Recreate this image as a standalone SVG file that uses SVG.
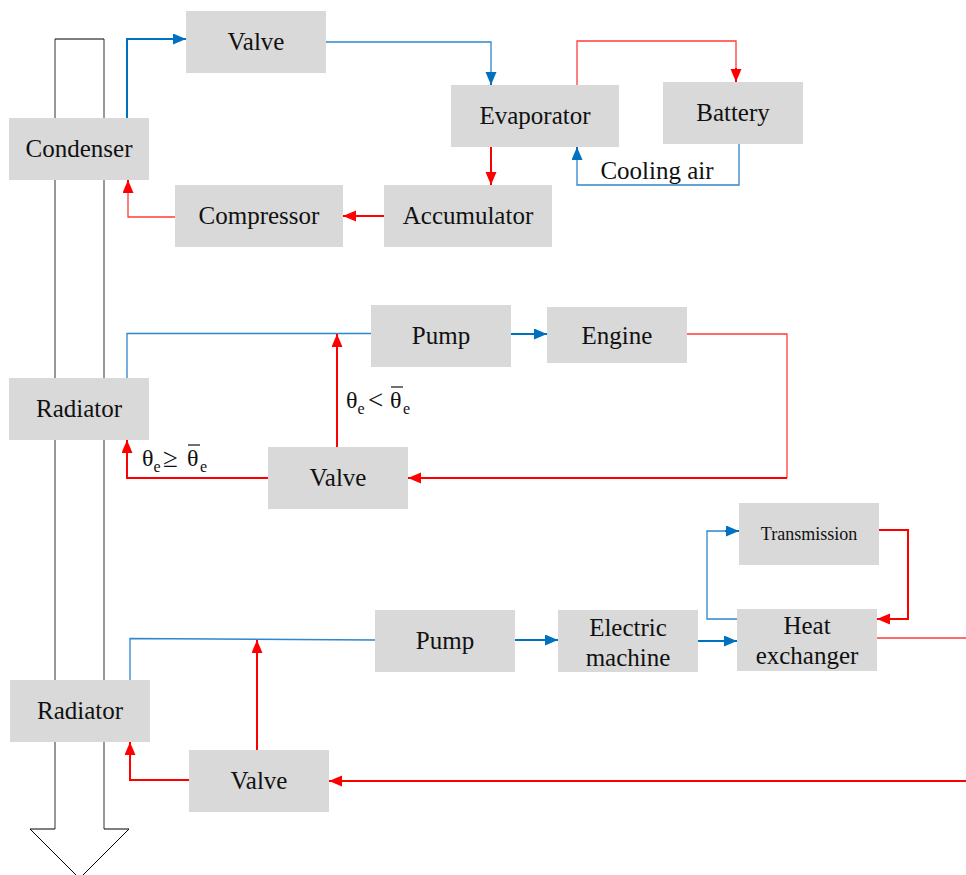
<svg xmlns="http://www.w3.org/2000/svg" width="966" height="875" viewBox="0 0 966 875">
  <style>
    .box { fill: #d9d9d9; }
    .lbl { font-family: "Liberation Serif", "Times New Roman", serif; font-size: 25px; fill: #111; text-anchor: middle; }
    .sym { font-family: "Liberation Serif", "Times New Roman", serif; font-size: 24px; fill: #111; }
    .op { font-family: "Liberation Serif", "Times New Roman", serif; font-size: 27px; fill: #111; }
    .sub { font-family: "Liberation Serif", "Times New Roman", serif; font-size: 16px; fill: #111; }
    .b { fill: none; stroke: #0070c0; stroke-width: 2; }
    .bt { fill: none; stroke: #2e86cc; stroke-width: 1.3; }
    .r { fill: none; stroke: #ff0000; stroke-width: 2; }
    .rt { fill: none; stroke: #ff3b3b; stroke-width: 1.3; }
    .shaft { stroke: #7f7f7f; stroke-width: 1.6; fill: none; }
    .edge { stroke: #000; stroke-width: 1; fill: none; }
  </style>
  <defs>
    <marker id="ab" markerUnits="userSpaceOnUse" markerWidth="14" markerHeight="12" refX="13" refY="5.5" orient="auto">
      <path d="M0,0 L13,5.5 L0,11 z" fill="#0070c0"/>
    </marker>
    <marker id="ar" markerUnits="userSpaceOnUse" markerWidth="14" markerHeight="12" refX="13" refY="5.5" orient="auto">
      <path d="M0,0 L13,5.5 L0,11 z" fill="#ff0000"/>
    </marker>
  </defs>

  <rect width="966" height="875" fill="#fff"/>

  <!-- heat flow to ambient: hollow downward arrow behind the heat exchangers -->
  <g id="ambient-flow">
    <path class="shaft" d="M55,39 V829 M104,39 V829"/>
    <path class="edge" d="M55,39 H104"/>
    <path class="edge" d="M55,829 H30 L79.5,878.5 L129,829 H104"/>
  </g>

  <!-- refrigerant loop -->
  <g id="condenser"><rect class="box" x="9" y="118" width="140" height="62"/><text class="lbl" x="79" y="157">Condenser</text></g>
  <g id="valve-refrigerant"><rect class="box" x="186" y="11" width="140" height="62"/><text class="lbl" x="256" y="50">Valve</text></g>
  <g id="compressor"><rect class="box" x="175" y="185" width="168" height="62"/><text class="lbl" x="259" y="224">Compressor</text></g>
  <g id="accumulator"><rect class="box" x="384" y="185" width="168" height="62"/><text class="lbl" x="468" y="224">Accumulator</text></g>
  <g id="evaporator"><rect class="box" x="451" y="85" width="168" height="62"/><text class="lbl" x="535" y="124">Evaporator</text></g>
  <g id="battery"><rect class="box" x="663" y="82" width="140" height="62"/><text class="lbl" x="733" y="121">Battery</text></g>

  <!-- engine coolant loop -->
  <g id="radiator-engine"><rect class="box" x="9" y="378" width="140" height="62"/><text class="lbl" x="79" y="417">Radiator</text></g>
  <g id="pump-engine"><rect class="box" x="371" y="305" width="140" height="62"/><text class="lbl" x="441" y="344">Pump</text></g>
  <g id="engine"><rect class="box" x="547" y="307" width="140" height="56"/><text class="lbl" x="617" y="344">Engine</text></g>
  <g id="valve-engine"><rect class="box" x="268" y="447" width="140" height="62"/><text class="lbl" x="338" y="486">Valve</text></g>

  <!-- electric drive coolant loop -->
  <g id="transmission"><rect class="box" x="739" y="503" width="140" height="62"/><text class="lbl" x="809" y="540" style="font-size:18px">Transmission</text></g>
  <g id="heat-exchanger"><rect class="box" x="737" y="609" width="140" height="62"/><text class="lbl" x="807" y="634">Heat</text><text class="lbl" x="807" y="664">exchanger</text></g>
  <g id="pump-drive"><rect class="box" x="375" y="610" width="140" height="62"/><text class="lbl" x="445" y="649">Pump</text></g>
  <g id="electric-machine"><rect class="box" x="558" y="610" width="140" height="62"/><text class="lbl" x="628" y="636">Electric</text><text class="lbl" x="628" y="666">machine</text></g>
  <g id="radiator-drive"><rect class="box" x="10" y="680" width="140" height="62"/><text class="lbl" x="80" y="719">Radiator</text></g>
  <g id="valve-drive"><rect class="box" x="189" y="750" width="140" height="62"/><text class="lbl" x="259" y="789">Valve</text></g>

  <g id="connectors">
    <!-- refrigerant -->
    <path class="b" d="M127,118 V39 H186" marker-end="url(#ab)"/>
    <path class="bt" d="M326,42 H491 V75"/>
    <path class="b" d="M491,72 V85" marker-end="url(#ab)"/>
    <path class="r" d="M491,147 V185" marker-end="url(#ar)"/>
    <path class="r" d="M384,216 H343" marker-end="url(#ar)"/>
    <path class="rt" d="M175,217 H128 V186"/>
    <path class="r" d="M128,192 V180" marker-end="url(#ar)"/>
    <path class="rt" d="M577,85 V41 H736 V72"/>
    <path class="r" d="M736,68 V82" marker-end="url(#ar)"/>
    <path class="bt" d="M739,144 V185 H577 V155"/>
    <path class="b" d="M577,160 V147" marker-end="url(#ab)"/>

    <!-- engine coolant -->
    <path class="bt" d="M127,378 V333.5 H371"/>
    <path class="b" d="M511,334 H547" marker-end="url(#ab)"/>
    <path class="rt" d="M687,334 H787 V478"/>
    <path class="r" d="M787,478 H408" marker-end="url(#ar)"/>
    <path class="r" d="M337,447 V334" marker-end="url(#ar)"/>
    <path class="r" d="M268,478 H127 V440" marker-end="url(#ar)"/>

    <!-- electric drive coolant -->
    <path class="bt" d="M130,680 V638.5 L375,640"/>
    <path class="b" d="M515,640 H558" marker-end="url(#ab)"/>
    <path class="b" d="M698,641 H737" marker-end="url(#ab)"/>
    <path class="bt" d="M737,619 H707 V531 H728"/>
    <path class="b" d="M725,531 H739" marker-end="url(#ab)"/>
    <path class="r" d="M879,530 H908 V619 H877" marker-end="url(#ar)"/>
    <path class="rt" d="M877,638 H966"/>
    <path class="r" d="M966,781 H329" marker-end="url(#ar)"/>
    <path class="r" d="M257,750 V640" marker-end="url(#ar)"/>
    <path class="r" d="M189,780 H130 V742" marker-end="url(#ar)"/>
  </g>

  <g id="labels">
    <text class="lbl" x="657" y="179" style="text-anchor:middle">Cooling air</text>

    <!-- bypass condition -->
    <text class="sym" x="346" y="408">θ</text>
    <text class="sub" x="357.5" y="414">e</text>
    <text class="op" x="368" y="409">&lt;</text>
    <text class="sym" x="390" y="408">θ</text>
    <line x1="391" y1="387" x2="403" y2="387" stroke="#111" stroke-width="1.2"/>
    <text class="sub" x="403" y="414">e</text>

    <!-- radiator condition -->
    <text class="sym" x="142" y="466">θ</text>
    <text class="sub" x="153.5" y="472">e</text>
    <text class="op" x="163" y="467">≥</text>
    <text class="sym" x="187" y="466">θ</text>
    <line x1="188" y1="445" x2="200" y2="445" stroke="#111" stroke-width="1.2"/>
    <text class="sub" x="200" y="472">e</text>
  </g>
</svg>
